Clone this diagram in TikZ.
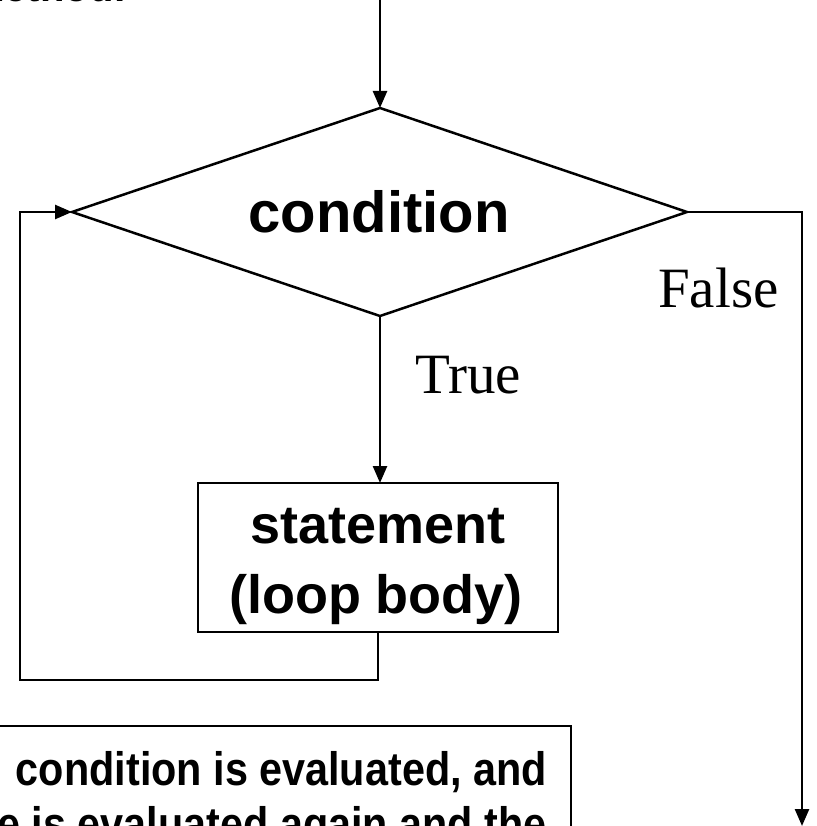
\documentclass[tikz,border=0pt]{standalone}
\usepackage{fontspec}
\setmainfont{Liberation Sans}
\newfontfamily\serifface{Liberation Serif}
\newfontfamily\narrowbold[FakeStretch=0.88]{Liberation Sans}
\usetikzlibrary{arrows.meta}
\tikzset{
  flow/.style={line width=2.5pt, -{Triangle[length=17pt,width=14pt]}},
  shapeline/.style={line width=2.5pt, line join=miter},
  bigbold/.style={font=\fontsize{58}{62}\selectfont\bfseries, inner sep=0pt},
  boxbold/.style={font=\fontsize{54}{70}\selectfont\bfseries, inner sep=0pt},
  serlabel/.style={font=\serifface\fontsize{57}{60}\selectfont, inner sep=0pt},
  notetext/.style={font=\narrowbold\fontsize{47}{52}\selectfont\bfseries, inner sep=0pt},
}
\begin{document}
\begin{tikzpicture}[x=1pt,y=-1pt]
\clip (0,0) rectangle (816,826);
% cut title
\node[anchor=base east, font=\fontsize{40}{44}\selectfont\bfseries, inner sep=0pt] (title) at (127,2) {method:};
% decision diamond
\coordinate (dT) at (380,108);
\coordinate (dR) at (687,212);
\coordinate (dB) at (380,316);
\coordinate (dL) at (72,212);
\draw[shapeline] (dT) -- (dR) -- (dB) -- (dL) -- cycle;
\node[bigbold, anchor=base] (cond) at (379,233) {condition};
% statement box
\node[draw, shapeline, minimum width=360pt, minimum height=149pt, inner sep=0pt, outer sep=0pt] (body) at (378,557.5) {};
\node[boxbold, anchor=base] (stmt) at (378,543) {statement};
\node[boxbold, anchor=base] (loopbody) at (376,613) {(loop body)};
% coordinates
\coordinate (start) at (380,0);
\coordinate (bl) at (20,680);
\coordinate (exit) at (802,826);
% connectors
\draw[flow] (start) -- (dT);
\draw[flow] (dB) -- (body.north -| dB);
\draw[flow] (body.south) |- (bl) |- (dL);
\draw[flow] (dR) -| (exit);
% labels
\node[serlabel, anchor=base west] (truelbl) at (415,393) {True};
\node[serlabel, anchor=base west] (falselbl) at (658,307) {False};
% note box
\node[draw, shapeline, anchor=north east, minimum width=620pt, minimum height=200pt, outer sep=0pt] (note) at (571,726) {};
\node[notetext, anchor=base east] (line1) at (547,785) {condition is evaluated, and};
\node[notetext, anchor=base east] (line2) at (547,840) {e is evaluated again and the};
\end{tikzpicture}
\end{document}
